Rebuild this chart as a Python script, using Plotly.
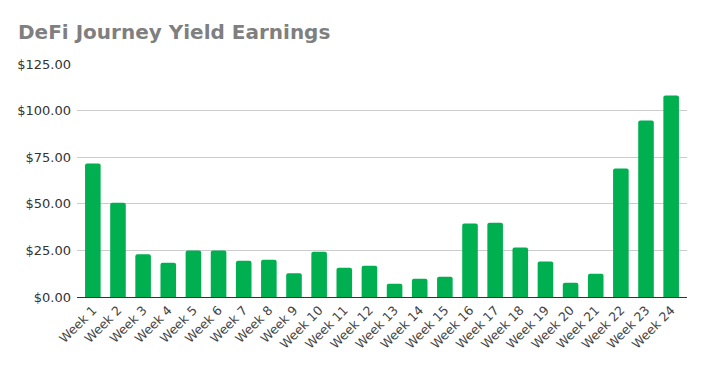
import plotly.graph_objects as go

weeks = [f"Week {i}" for i in range(1, 25)]
earnings = [71.6, 50.6, 22.9, 18.4, 24.9, 24.9, 19.5, 20.0, 12.7, 24.3, 15.7, 16.8,
            7.1, 9.8, 10.9, 39.4, 39.9, 26.5, 19.0, 7.7, 12.5, 68.9, 94.7, 108.1]
y_ticks = [0, 25, 50, 75, 100, 125]

fig = go.Figure(go.Bar(
    x=list(range(len(weeks))), y=earnings,
    marker=dict(color="#00B050", cornerradius=2, line=dict(width=0)),
))

# page body has an 8px default margin, so the figure is sized to fill the rest
fig.update_layout(
    width=698, height=359,
    margin=dict(l=69, r=19, t=56, b=70, autoexpand=False),
    paper_bgcolor="white", plot_bgcolor="white",
    bargap=0.38,
    showlegend=False,
    title=dict(text="<b>DeFi Journey Yield Earnings</b>", x=0, xref="container", xanchor="left",
               y=1, yref="container", yanchor="top", pad=dict(l=10, t=17),
               font=dict(family="DejaVu Sans", size=20, color="#7f7f7f")),
    font=dict(family="DejaVu Sans", size=12.5, color="#333333"),
    xaxis=dict(
        range=[-0.63, 23.63], tickmode="array", tickvals=list(range(len(weeks))),
        ticktext=weeks, tickangle=-45, showgrid=False, ticks="", automargin=False,
        showline=True, linecolor="#333333", linewidth=1,
        tickfont=dict(family="DejaVu Sans", size=12.5, color="#444444"),
    ),
    yaxis=dict(
        range=[0, 125], tickvals=y_ticks, ticktext=[f"${v:.2f}" for v in y_ticks],
        showgrid=True, gridcolor="#cccccc", gridwidth=1, zeroline=False,
        ticks="", ticklen=0, automargin=False, ticklabelstandoff=5,
        tickfont=dict(family="DejaVu Sans", size=13, color="#333333"),
    ),
)

fig.write_html("out.html")
